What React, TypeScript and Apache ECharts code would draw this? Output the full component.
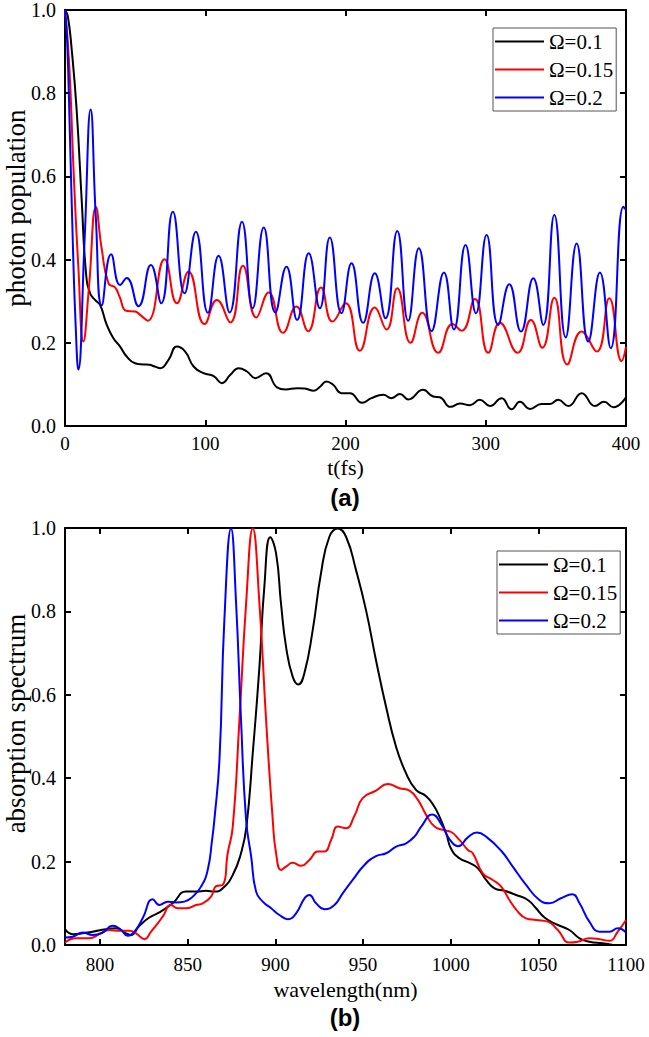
import React, { useEffect, useRef } from "react";
import * as echarts from "echarts";

const SERIF = "Liberation Serif";
const SANS = "Liberation Sans";

const seriesNames = ["Ω=0.1", "Ω=0.15", "Ω=0.2"];
const seriesColors = ["#000000", "#ff0000", "#0000ff"];

const timeTicks = [0, 100, 200, 300, 400];
const waveTicks = [800, 850, 900, 950, 1000, 1050, 1100];

// (a) photon population vs t(fs)
const popBlack = [[0,1],[2,0.985],[4.8,0.904],[8.3,0.76],[11.9,0.543],[15,0.367],[17.9,0.319],[21.4,0.303],[25,0.291],[29.8,0.243],[34.5,0.211],[39.3,0.191],[44,0.167],[50,0.151],[56,0.148],[60.2,0.147],[64,0.143],[67.9,0.139],[73.8,0.159],[79.8,0.191],[85.7,0.179],[91.7,0.143],[98.8,0.127],[106,0.12],[111.9,0.103],[117.9,0.123],[123.8,0.139],[129.8,0.131],[135.7,0.115],[143.3,0.127],[151.2,0.093],[157.1,0.088],[165.5,0.091],[171,0.09],[177.4,0.085],[182,0.095],[186.4,0.107],[191.2,0.099],[197.1,0.079],[203.1,0.079],[211.9,0.056],[218.5,0.067],[226.9,0.075],[232.8,0.067],[238.8,0.077],[244.7,0.064],[255.4,0.087],[262.5,0.071],[267.3,0.069],[274.9,0.046],[281.6,0.054],[288.7,0.05],[295.8,0.063],[303,0.048],[311.3,0.067],[318.4,0.04],[324.4,0.058],[331.5,0.041],[339.8,0.053],[345.8,0.053],[351.7,0.063],[358.9,0.048],[368.4,0.079],[377.9,0.048],[384.3,0.058],[391,0.045],[400,0.069]];
const popRed = [[0,1],[3,0.87],[6,0.623],[9.5,0.383],[13.1,0.203],[17,0.33],[22.1,0.526],[26,0.43],[31,0.343],[35.7,0.333],[39,0.31],[43.6,0.277],[50,0.275],[53.6,0.267],[59,0.253],[71,0.401],[79.8,0.295],[88.1,0.371],[99.5,0.245],[108.3,0.303],[117.9,0.249],[126.9,0.385],[136.4,0.261],[145.2,0.321],[155.5,0.224],[165,0.287],[173.3,0.228],[182.6,0.333],[190.7,0.251],[200.2,0.295],[210.2,0.181],[220.9,0.285],[229.3,0.232],[236.9,0.331],[246.4,0.2],[254.7,0.272],[266.1,0.176],[276.3,0.245],[282.8,0.229],[292.3,0.305],[301.8,0.176],[310.1,0.248],[322.7,0.176],[332.2,0.255],[340.3,0.188],[348.9,0.308],[358.1,0.148],[368.4,0.227],[379.1,0.179],[388.1,0.307],[396.9,0.156],[400,0.19]];
const popBlue = [[0,1],[1.5,0.93],[3.5,0.7],[5.5,0.45],[7.5,0.25],[9.5,0.136],[14,0.45],[18.3,0.761],[22,0.5],[26.2,0.29],[32.9,0.413],[39.3,0.339],[44,0.356],[52.4,0.288],[61.2,0.387],[68.6,0.295],[76.9,0.515],[85.2,0.319],[93.3,0.467],[101.9,0.272],[109.5,0.409],[117.4,0.273],[126.2,0.491],[133.8,0.283],[141.7,0.477],[150,0.273],[157.9,0.383],[165.5,0.255],[173.8,0.415],[181.7,0.283],[188.8,0.453],[197.1,0.271],[204.3,0.391],[212.6,0.248],[220.9,0.367],[228.5,0.259],[236.9,0.469],[244.7,0.253],[252.3,0.427],[261.4,0.228],[270.2,0.369],[277.3,0.232],[285.6,0.435],[293,0.271],[300.6,0.459],[308.9,0.243],[316.8,0.341],[325.1,0.227],[333.9,0.355],[341,0.243],[348.9,0.507],[357,0.213],[364.8,0.439],[373.1,0.203],[381.4,0.369],[389.1,0.187],[398.1,0.527],[400,0.52]];

// (b) absorption spectrum vs wavelength(nm)
const absBlack = [[780,0.038],[784.4,0.026],[790,0.028],[795.8,0.032],[803.4,0.038],[809.1,0.04],[814.8,0.028],[817.7,0.024],[822.4,0.046],[828.1,0.066],[833.8,0.078],[841.4,0.1],[849,0.128],[854.8,0.128],[860.5,0.13],[865.2,0.128],[870,0.136],[875.7,0.168],[880.4,0.22],[883.5,0.284],[887.1,0.46],[890.9,0.667],[893.7,0.859],[897.1,0.978],[900.4,0.939],[903.2,0.819],[906.1,0.715],[909.9,0.643],[913.1,0.625],[916.5,0.651],[921.3,0.755],[926,0.891],[930.8,0.979],[935.6,0.999],[940.3,0.979],[946,0.899],[951.7,0.803],[957.4,0.683],[963.1,0.572],[968.8,0.476],[974.5,0.412],[980.2,0.372],[986,0.357],[990.2,0.335],[993.6,0.308],[997.4,0.268],[1000.3,0.23],[1005,0.208],[1010.7,0.197],[1015.5,0.184],[1020.2,0.156],[1025,0.136],[1030.7,0.13],[1037.3,0.12],[1044,0.108],[1048.7,0.088],[1053.5,0.066],[1060.1,0.05],[1067.7,0.036],[1073.5,0.016],[1079.1,0.008],[1086.8,0.004],[1092.5,0]];
const absRed = [[780,0.006],[786.3,0.016],[793.9,0.016],[799.6,0.026],[805.3,0.036],[811,0.034],[816.7,0.034],[820.5,0.028],[825.3,0.014],[829.1,0.032],[832.9,0.052],[835.7,0.068],[840.5,0.096],[844.3,0.088],[849,0.088],[854.8,0.096],[858.6,0.1],[863.3,0.116],[866.2,0.141],[870,0.144],[872.8,0.22],[875.7,0.284],[879.5,0.54],[883.3,0.819],[887.1,0.999],[890.9,0.819],[894.7,0.54],[898.5,0.3],[900.4,0.22],[903.3,0.18],[906.1,0.188],[909.9,0.197],[914.7,0.19],[919.4,0.204],[924.2,0.224],[928,0.224],[931.8,0.252],[935.6,0.284],[940.3,0.28],[945.1,0.31],[949.8,0.352],[957.4,0.37],[964.1,0.386],[970.8,0.376],[976.5,0.37],[981.3,0.348],[986,0.312],[990.8,0.284],[995.5,0.276],[1000.3,0.271],[1005,0.252],[1009.8,0.228],[1012.6,0.22],[1018.3,0.172],[1024,0.156],[1028.8,0.14],[1033.5,0.108],[1038.3,0.08],[1043,0.064],[1048.7,0.06],[1055.4,0.056],[1061.1,0.036],[1067.7,0.006],[1072.5,0.008],[1079.1,0.016],[1084.9,0.014],[1090.6,0.01],[1095.3,0.032],[1100,0.06]];
const absBlue = [[780,0.018],[784.4,0.02],[790.1,0.03],[795.8,0.024],[801.5,0.03],[807.2,0.046],[812,0.036],[815.8,0.022],[819.6,0.032],[824.3,0.064],[830,0.11],[833.8,0.096],[838.6,0.104],[843.3,0.102],[848.1,0.104],[852.9,0.116],[857.6,0.14],[861.4,0.18],[863.9,0.252],[865.2,0.3],[868.1,0.444],[870.9,0.779],[874.7,0.999],[877.6,0.819],[880.4,0.54],[883.3,0.3],[886.2,0.212],[889,0.128],[892.8,0.104],[897.6,0.088],[902.3,0.072],[907.1,0.062],[911.8,0.076],[916.6,0.112],[919.4,0.12],[923.2,0.1],[928,0.086],[933.7,0.096],[938.4,0.124],[944.1,0.156],[950.8,0.192],[957.4,0.213],[963.2,0.22],[968.9,0.236],[974.6,0.244],[979.3,0.26],[983.2,0.284],[989.4,0.313],[994.6,0.29],[999.3,0.254],[1004.3,0.237],[1009.8,0.258],[1015,0.27],[1020.7,0.258],[1028.8,0.226],[1035.4,0.188],[1043,0.144],[1050.6,0.108],[1056.3,0.1],[1062.9,0.112],[1069.3,0.122],[1073.5,0.1],[1079.1,0.056],[1084.9,0.032],[1090.6,0.032],[1095.3,0.04],[1100,0.03]];

const axisLineStyle = { color: "#000", width: 2 };

function xAxisPair(gridIndex: number, min: number, max: number, ticks: number[], name: string, nameGap: number, labelMargin: number) {
  const base = {
    gridIndex,
    type: "value",
    min,
    max,
    splitLine: { show: false },
    axisLine: { show: true, onZero: false, lineStyle: axisLineStyle },
    axisTick: { show: true, inside: true, length: 6, lineStyle: axisLineStyle, customValues: ticks },
  };
  return [
    {
      ...base,
      position: "bottom",
      axisLabel: {
        show: true,
        customValues: ticks,
        color: "#000",
        fontFamily: SERIF,
        fontSize: 19,
        margin: labelMargin,
        formatter: (v: number) => String(v),
      },
      name,
      nameLocation: "middle",
      nameGap,
      nameMoveOverlap: false,
      nameTextStyle: { color: "#000", fontFamily: SERIF, fontSize: 22 },
    },
    { ...base, position: "top", axisLabel: { show: false } },
  ];
}

function yAxisPair(gridIndex: number, name: string, shiftUp: number) {
  const base = {
    gridIndex,
    type: "value",
    min: 0,
    max: 1,
    interval: 0.2,
    splitLine: { show: false },
    axisLine: { show: true, onZero: false, lineStyle: axisLineStyle },
    axisTick: { show: true, inside: true, length: 6, lineStyle: axisLineStyle },
  };
  return [
    {
      ...base,
      position: "left",
      axisLabel: { show: true, color: "#000", fontFamily: SERIF, fontSize: 20, margin: 9, formatter: (v: number) => v.toFixed(1) },
      name,
      nameLocation: "middle",
      nameGap: 36,
      nameMoveOverlap: false,
      nameTextStyle: { color: "#000", fontFamily: SERIF, fontSize: 27, padding: [0, 0, 0, shiftUp * 2] },
    },
    { ...base, position: "right", axisLabel: { show: false } },
  ];
}

function lineSeries(name: string, color: string, data: number[][], axisIndex: number) {
  return {
    type: "line",
    name,
    data,
    xAxisIndex: axisIndex,
    yAxisIndex: axisIndex,
    showSymbol: false,
    smooth: 0.5,
    lineStyle: { color, width: 2 },
    itemStyle: { color },
    clip: true,
  };
}

function legend(left: number, top: number) {
  return {
    orient: "vertical",
    left,
    top,
    data: seriesNames,
    icon: "rect",
    itemWidth: 49,
    itemHeight: 2,
    itemGap: 7,
    padding: [3, 3, 3, 2],
    borderColor: "#555",
    borderWidth: 1,
    textStyle: { color: "#000", fontFamily: SERIF, fontSize: 21, lineHeight: 20 },
  };
}

export default function App() {
  const ref = useRef<HTMLDivElement>(null);
  useEffect(() => {
    if (!ref.current) return;
    const chart = echarts.init(ref.current, null, { renderer: "svg" });
    const option = {
      animation: false,
      backgroundColor: "#fff",
      textStyle: { fontFamily: SERIF },
      grid: [
        { left: 65, top: 10, width: 561, height: 416, containLabel: false, outerBoundsMode: "none" },
        { left: 65, top: 528, width: 561, height: 417, containLabel: false, outerBoundsMode: "none" },
      ],
      xAxis: [
        ...xAxisPair(0, 0, 400, timeTicks, "t(fs)", 30, 8),
        ...xAxisPair(1, 780, 1100, waveTicks, "wavelength(nm)", 33, 10),
      ],
      yAxis: [...yAxisPair(0, "photon population", 10), ...yAxisPair(1, "absorption spectrum", 13)],
      legend: [legend(493, 28), legend(497, 551)],
      series: [
        lineSeries(seriesNames[0], seriesColors[0], popBlack, 0),
        lineSeries(seriesNames[1], seriesColors[1], popRed, 0),
        lineSeries(seriesNames[2], seriesColors[2], popBlue, 0),
        lineSeries(seriesNames[0], seriesColors[0], absBlack, 2),
        lineSeries(seriesNames[1], seriesColors[1], absRed, 2),
        lineSeries(seriesNames[2], seriesColors[2], absBlue, 2),
      ],
      graphic: [
        { type: "text", x: 345, y: 497, style: { text: "(a)", fontFamily: SANS, fontWeight: "bold", fontSize: 24, fill: "#000", textAlign: "center", textVerticalAlign: "middle" } },
        { type: "text", x: 345, y: 1017, style: { text: "(b)", fontFamily: SANS, fontWeight: "bold", fontSize: 24, fill: "#000", textAlign: "center", textVerticalAlign: "middle" } },
      ],
    };
    chart.setOption(option as any);
    return () => chart.dispose();
  }, []);
  return <div ref={ref} style={{ position: "absolute", left: 0, top: 0, width: 649, height: 1037 }} />;
}
